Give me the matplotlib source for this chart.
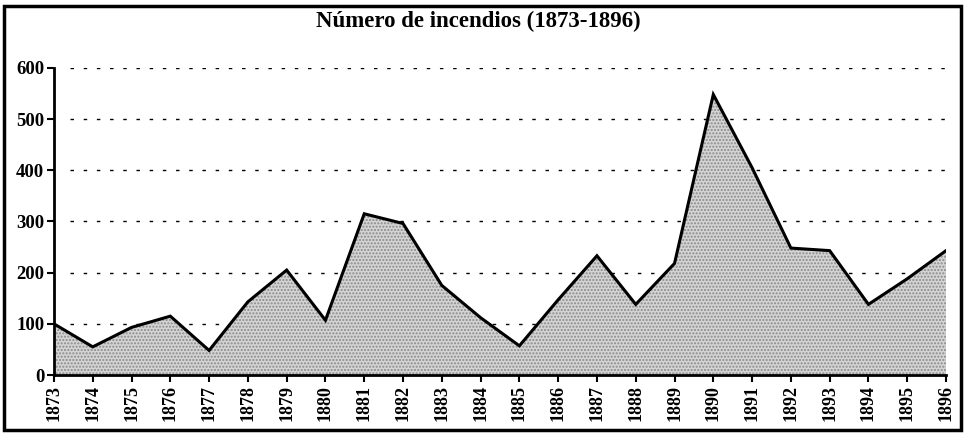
import matplotlib
matplotlib.use("Agg")
import matplotlib.pyplot as plt
from matplotlib.patches import Rectangle

years = [str(y) for y in range(1873, 1897)]
fires = [100, 55, 93, 115, 48, 143, 205, 107, 315, 296, 175, 112, 57, 147,
         233, 138, 218, 548, 405, 248, 243, 138, 188, 243]
yticks = [0, 100, 200, 300, 400, 500, 600]
title = "Número de incendios (1873-1896)"

plt.rcParams['font.family'] = ['Liberation Serif', 'DejaVu Serif']

fig = plt.figure(figsize=(9.67, 4.38), dpi=100)
ax = fig.add_axes([0.0558, 0.1438, 0.9225, 0.7012])
x = list(range(len(years)))
ax.fill_between(x, fires, 0, facecolor='#d4d4d4', edgecolor='#8a8a8a', hatch='.....', linewidth=0)
ax.plot(x, fires, color='black', lw=2.2, solid_joinstyle='miter')
ax.set_xlim(0, len(years) - 1)
ax.set_ylim(0, 600)
ax.set_yticks(yticks)
ax.set_yticklabels([str(v) for v in yticks], fontsize=13.5, fontweight='bold')
ax.set_xticks(x)
ax.set_xticklabels(years, rotation=90, fontsize=13, fontweight='bold')
for v in yticks[1:]:
    ax.plot([0.42, len(years) - 1], [v, v], color='black', lw=1.0,
            linestyle=(0, (2.5, 7)), zorder=0)
for s in ['top', 'right']:
    ax.spines[s].set_visible(False)
ax.spines['left'].set_linewidth(2)
ax.spines['bottom'].set_linewidth(2)
ax.tick_params(axis='both', direction='out', length=5, width=1.5, pad=2)
ax.set_facecolor('none')

fig.text(0.495, 0.952, title, ha='center', va='center', fontsize=16.5, fontweight='bold')
fig.patches.append(Rectangle((0.004, 0.018), 0.99, 0.968, transform=fig.transFigure,
                             fill=False, edgecolor='black', lw=2.5))
fig.savefig("out.png", dpi=100)
